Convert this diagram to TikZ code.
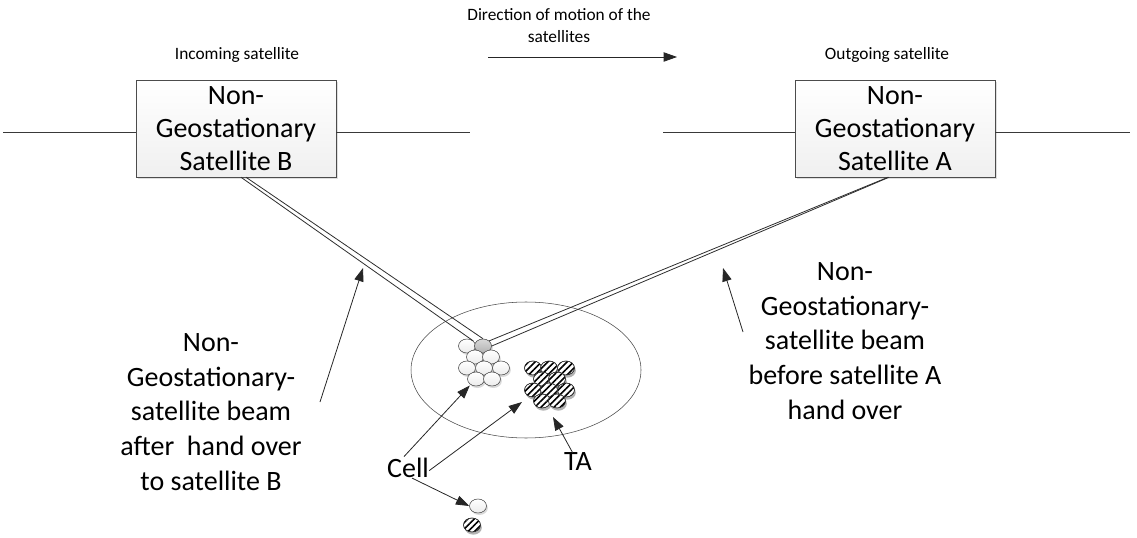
\documentclass[tikz,border=0pt]{standalone}
\usepackage{fontspec}
\setmainfont{Carlito}
\usetikzlibrary{positioning,shapes.geometric,shadows,patterns.meta,arrows.meta}

\tikzset{
  satbox/.style={draw=gray!60!black, top color=white, bottom color=gray!12,
    minimum width=150pt, minimum height=72.75pt, inner sep=0pt, align=center,
    font=\fontsize{21}{24.5}\selectfont,
    drop shadow={shadow xshift=1.5pt, shadow yshift=-1.5pt, opacity=.25}},
  bigtext/.style={align=center, inner sep=0pt, font=\fontsize{21}{26}\selectfont},
  smalltext/.style={align=center, inner sep=0pt, font=\fontsize{13}{16.5}\selectfont},
  orbit/.style={draw=gray!45!black, line width=.6pt},
  beam/.style={draw=gray!35!black, line width=.6pt},
  pointer/.style={draw=gray!30!black, line width=.6pt, -{Triangle[length=10pt,width=7pt]}},
  cellw/.style={ellipse, draw=gray!55!black, inner sep=0pt, minimum width=12.75pt,
    minimum height=10.5pt, top color=white, bottom color=gray!15,
    drop shadow={shadow xshift=1pt, shadow yshift=-1.5pt, opacity=.3}},
  cellg/.style={cellw, top color=gray!30, bottom color=gray!60},
  cellh/.style={ellipse, draw=gray!55!black, inner sep=0pt, minimum width=12.75pt,
    minimum height=10.5pt, fill=white,
    drop shadow={shadow xshift=1pt, shadow yshift=-2pt, opacity=.6},
    postaction={pattern={Lines[angle=45, distance=3.4pt, line width=1.2pt]}},
    postaction={draw=gray!40!black}}
}

\begin{document}
\begin{tikzpicture}[x=0.75pt, y=-0.75pt]
  \useasboundingbox (0,0) rectangle (1137,538);

  % satellites and their orbit
  \node[satbox] (satB) at (236,128.5) {Non-\\Geostationary\\Satellite B};
  \node[satbox] (satA) at (895,128.5) {Non-\\Geostationary\\Satellite A};
  \coordinate (oB1) at (3,132);
  \coordinate (oB2) at (470,132);
  \coordinate (oA1) at (663,132);
  \coordinate (oA2) at (1130,132);
  \draw[orbit] (oB1) -- (oB1 -| satB.west) (oB2 -| satB.east) -- (oB2);
  \draw[orbit] (oA1) -- (oA1 -| satA.west) (oA2 -| satA.east) -- (oA2);

  \node[smalltext] (inc) at (237,55) {Incoming satellite};
  \node[smalltext] (out) at (887,55) {Outgoing satellite};
  \node[smalltext] (dir) at (559,26) {Direction of motion of the\\satellites};
  \coordinate (dirS) at (488,57);
  \coordinate (dirE) at (677,57);
  \draw[pointer] (dirS) -- (dirE);

  % coverage area
  \node[ellipse, draw=gray!55!black, minimum width=172.5pt, minimum height=102pt] (area) at (526,370) {};

  % cells
  \node[cellw] (w1) at (467,346) {};
  \node[cellg] (s1) at (483,346) {};
  \node[cellw] (w2) at (475,357) {}; \node[cellw] (w3) at (491,357) {};
  \node[cellw] (w4) at (467,368) {}; \node[cellw] (w5) at (484,368) {}; \node[cellw] (w6) at (501,368) {};
  \node[cellw] (w7) at (476,379) {}; \node[cellw] (w8) at (492,379) {};

  \node[cellh] (h1) at (533,368) {}; \node[cellh] (h2) at (549,368) {}; \node[cellh] (h3) at (566,368) {};
  \node[cellh] (h4) at (542,379) {}; \node[cellh] (h5) at (557,379) {};
  \node[cellh] (h6) at (533,390) {}; \node[cellh] (h7) at (549,390) {}; \node[cellh] (h8) at (566,390) {};
  \node[cellh] (h9) at (542,401) {}; \node[cellh] (h10) at (557,401) {};

  \node[cellw] (lw) at (478,506) {};
  \node[cellh] (lh) at (472,525) {};

  % beams
  \draw[beam] ([xshift=3.75pt]satB.south) -- (w1.north east);
  \draw[beam] ([xshift=7.5pt]satB.south) -- (s1.north);
  \draw[beam] ([xshift=-5.25pt]satA.south) -- (s1.north east);
  \draw[beam] ([xshift=-4.5pt]satA.south) -- (s1.east);

  % labels
  \node[bigtext] (after) at (211,412) {Non-\\Geostationary-\\satellite beam\\after\ \ hand over\\to satellite B};
  \node[bigtext] (before) at (845,341) {Non-\\Geostationary-\\satellite beam\\before satellite A\\hand over};
  \node[bigtext] (cell) at (408,468) {Cell};
  \node[bigtext] (ta) at (578,462) {TA};

  \coordinate (aS) at (320,402);
  \coordinate (aE) at (363,268);
  \coordinate (bS) at (743,332);
  \coordinate (bE) at (723,268);
  \coordinate (taE) at (553,417);
  \coordinate (hE) at (522,402);
  \draw[pointer] (aS) -- (aE);
  \draw[pointer] (bS) -- (bE);
  \draw[pointer] ([xshift=-3pt,yshift=1pt]cell.north) -- ([yshift=-1pt]w7.south west);
  \draw[pointer] ([yshift=-2pt]cell.east) -- (hE);
  \draw[pointer] ([xshift=3pt]cell.south) -- (lw.west);
  \draw[pointer] ([xshift=-4pt]ta.north) -- (taE);
\end{tikzpicture}
\end{document}
